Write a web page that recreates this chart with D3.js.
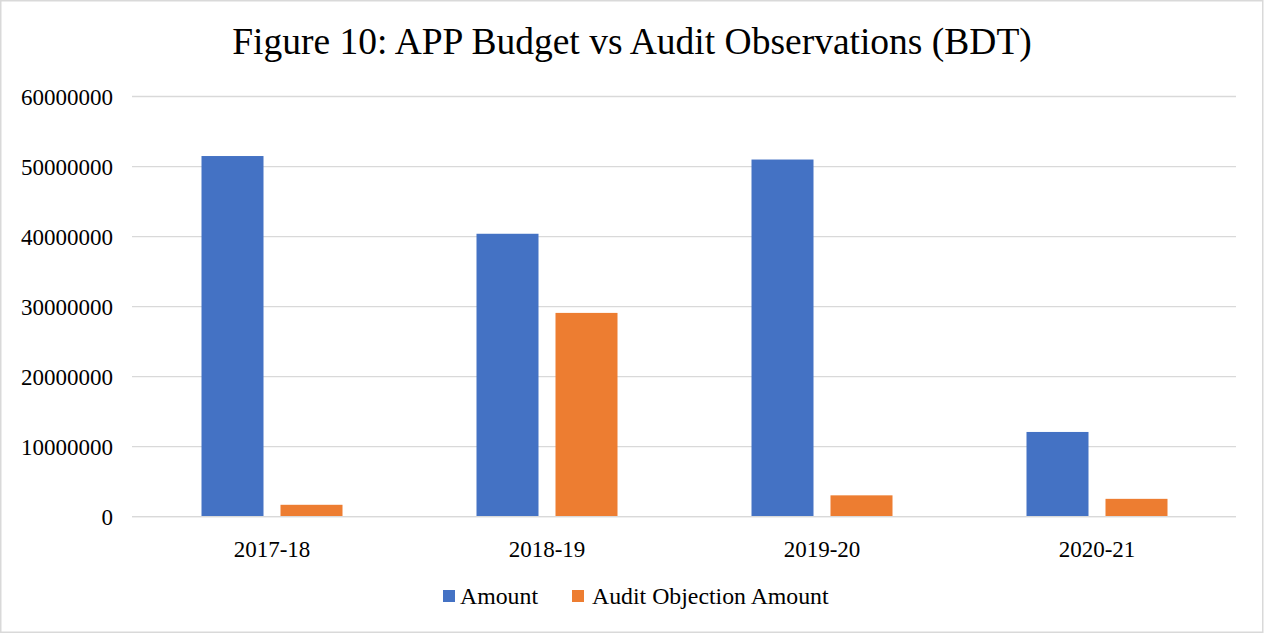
<!DOCTYPE html>
<html>
<head>
<meta charset="utf-8">
<script src="https://cdn.jsdelivr.net/npm/d3@7"></script>
<style>
  html, body { margin: 0; padding: 0; background: #fff; }
  svg { display: block; }
  text { font-family: "Liberation Serif", "Times New Roman", serif; fill: #000; }
</style>
</head>
<body>
<svg id="chart" width="1265" height="634"></svg>
<script>
// Fiscal years on the x axis
const years = ["2017-18", "2018-19", "2019-20", "2020-21"];
// APP budget amount (BDT)
const amount = [51500000, 40400000, 51000000, 12100000];
// Audit objection amount (BDT)
const auditObjection = [1700000, 29100000, 3050000, 2550000];
// Series names for the legend
const seriesNames = ["Amount", "Audit Objection Amount"];
// Y axis tick values
const yTicks = [0, 10000000, 20000000, 30000000, 40000000, 50000000, 60000000];

const colors = ["#4472C4", "#ED7D31"];
const W = 1265, H = 634;
const serif = "'Liberation Serif', 'Times New Roman', serif";
const margin = { left: 134.5, right: 1234.5, top: 96.5, bottom: 516.7 };

const svg = d3.select("#chart");

// Outer chart frame
svg.append("rect")
  .attr("x", 0.75).attr("y", 0.75)
  .attr("width", W - 3).attr("height", H - 2.5)
  .attr("fill", "#fff").attr("stroke", "#d9d9d9").attr("stroke-width", 1.5);

// Title
svg.append("text")
  .attr("x", 632).attr("y", 53.5)
  .attr("text-anchor", "middle")
  .attr("font-family", serif)
  .style("font-size", "37.5px")
  .text("Figure 10: APP Budget vs Audit Observations (BDT)");

const x = d3.scaleBand().domain(years).range([margin.left, margin.right]);
const y = d3.scaleLinear().domain([0, 60000000]).range([margin.bottom, margin.top]);

// Horizontal gridlines
svg.append("g").selectAll("line").data(yTicks).join("line")
  .attr("x1", 132).attr("x2", 1236)
  .attr("y1", d => y(d)).attr("y2", d => y(d))
  .attr("stroke", "#d9d9d9").attr("stroke-width", 1.3);

// Y axis labels
const yAxis = d3.axisLeft(y).tickValues(yTicks).tickSize(0).tickPadding(0)
  .tickFormat(d3.format("d"));
svg.append("g")
  .attr("transform", "translate(113,0)")
  .call(yAxis)
  .attr("font-family", serif)
  .attr("font-size", 23)
  .call(g => g.select(".domain").remove())
  .call(g => g.selectAll("text")
    .attr("fill", "#000")
    .attr("dy", "0.33em"));

// Bars
const barW = 62, gap = 17;
const groupW = barW * 2 + gap;
const series = [amount, auditObjection];
series.forEach((vals, si) => {
  svg.append("g").selectAll("rect").data(years).join("rect")
    .attr("x", (d) => x(d) + (x.bandwidth() - groupW) / 2 + si * (barW + gap))
    .attr("y", (d, i) => y(vals[i]))
    .attr("width", barW)
    .attr("height", (d, i) => y(0) - y(vals[i]))
    .attr("fill", colors[si]);
});

// Baseline over the bars
svg.append("line")
  .attr("x1", 132).attr("x2", 1236)
  .attr("y1", y(0)).attr("y2", y(0))
  .attr("stroke", "#d9d9d9").attr("stroke-width", 1.3);

// X axis labels
const xAxis = d3.axisBottom(x).tickSize(0).tickPadding(0);
svg.append("g")
  .attr("transform", `translate(0,${y(0)})`)
  .call(xAxis)
  .attr("font-family", serif)
  .attr("font-size", 23)
  .call(g => g.select(".domain").remove())
  .call(g => g.selectAll("text")
    .attr("fill", "#000")
    .attr("y", 40).attr("dy", 0));

// Legend
const legend = [
  { name: seriesNames[0], color: colors[0], sx: 443, tx: 460 },
  { name: seriesNames[1], color: colors[1], sx: 572, tx: 592 }
];
const lg = svg.append("g");
lg.selectAll("rect").data(legend).join("rect")
  .attr("x", d => d.sx).attr("y", 590).attr("width", 12).attr("height", 12)
  .attr("fill", d => d.color);
lg.selectAll("text").data(legend).join("text")
  .attr("x", d => d.tx).attr("y", 604)
  .attr("font-family", serif)
  .style("font-size", "23.8px")
  .text(d => d.name);
</script>
</body>
</html>
